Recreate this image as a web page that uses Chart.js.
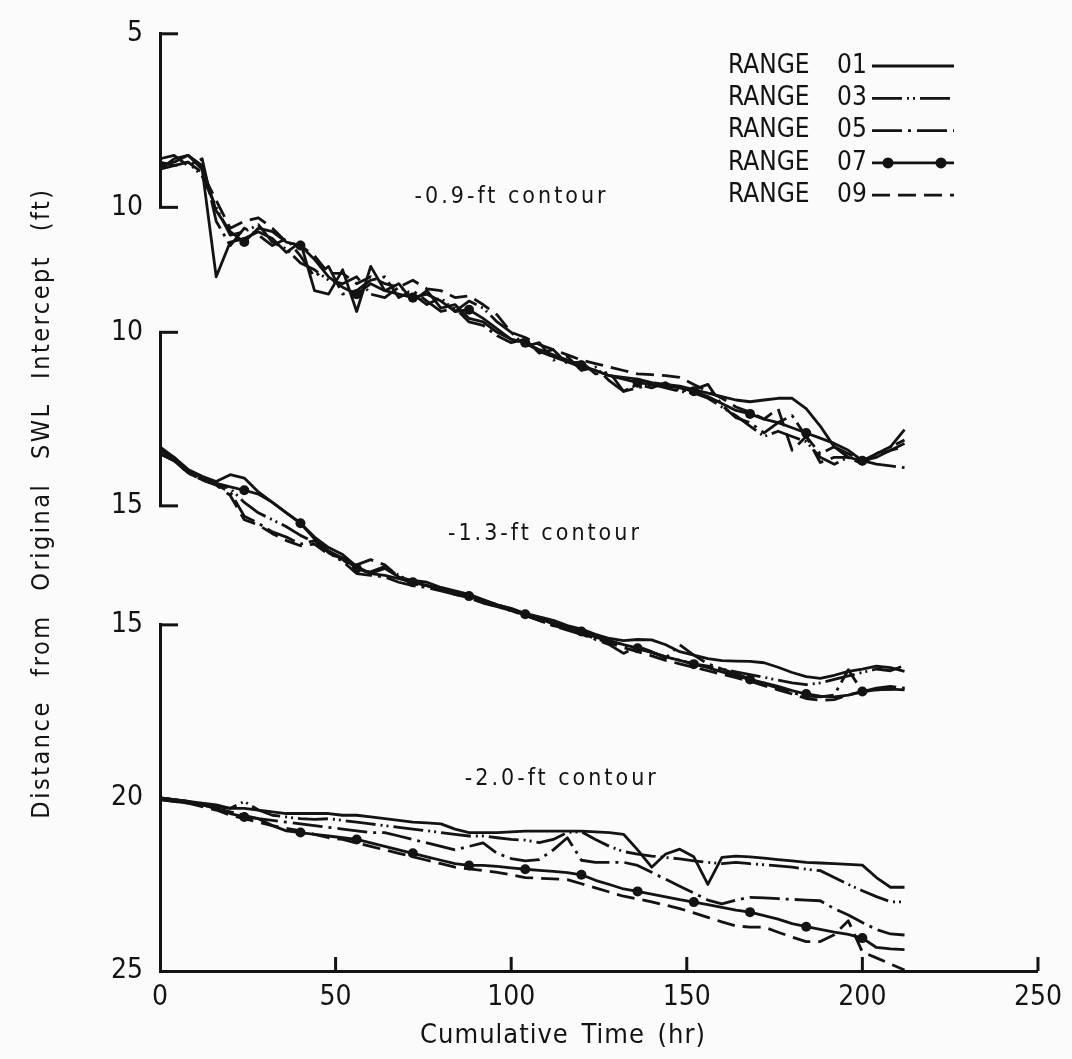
<!DOCTYPE html>
<html><head><meta charset="utf-8">
<script src="https://cdn.jsdelivr.net/npm/chart.js@4/dist/chart.umd.min.js"></script>
<style>html,body{margin:0;padding:0;background:#fbfbfb;overflow:hidden}canvas{display:block}</style>
</head><body>
<canvas id="c" width="1072" height="1059"></canvas>
<script>
// ---------------- DATA ----------------
const hours = [0,4,8,12,16,20,24,28,32,36,40,44,48,52,56,60,64,68,72,76,80,84,88,92,96,100,104,108,112,116,120,124,128,132,136,140,144,148,152,156,160,164,168,172,176,180,184,188,192,196,200,204,208,212];
const rangeNames = ['RANGE 01','RANGE 03','RANGE 05','RANGE 07','RANGE 09'];
const contourNames = ['-0.9-ft contour','-1.3-ft contour','-2.0-ft contour'];
const xTicks = [0,50,100,150,200,250];
const yTicks1 = [5,10];
const yTicks2 = [10,15];
const yTicks3 = [15,20,25];
const xTitle = 'Cumulative Time (hr)';
const yTitle = 'Distance from Original SWL Intercept (ft)';

// -0.9-ft contour
const r01_c09 = [8.9,8.6,8.5,8.9,12.0,11.0,10.9,10.7,10.9,11.3,11.0,12.4,12.5,11.8,13.0,11.7,12.4,12.2,12.7,12.4,12.9,12.8,13.2,13.3,13.6,13.8,13.9,14.15,14.3,14.45,14.6,14.7,14.85,14.9,14.95,15.05,15.1,15.15,15.25,15.35,15.45,15.55,15.6,15.55,15.5,15.5,15.8,16.3,16.9,17.2,17.3,17.1,16.9,16.4];
const r03_c09 = [8.7,8.8,8.7,9.1,10.0,10.8,10.7,10.5,11.0,11.2,11.6,11.8,12.1,12.2,12.0,12.5,12.6,12.3,12.5,12.8,12.6,13.0,12.7,12.9,13.3,13.6,14.0,13.9,14.4,14.3,14.7,14.6,15.0,15.3,15.1,15.2,15.05,15.3,15.35,15.5,15.75,16.0,16.3,16.6,16.45,16.6,16.75,17.2,17.4,17.2,17.4,17.1,16.9,16.7];
const r05_c09 = [8.6,8.5,8.8,8.6,10.4,11.1,10.6,10.8,11.1,10.9,11.4,12.0,11.7,12.5,12.4,12.1,12.0,12.6,12.4,12.7,13.0,12.9,13.3,13.4,13.7,13.9,13.8,14.2,14.1,14.5,14.45,14.8,14.75,15.3,15.2,15.1,15.2,15.3,15.25,15.1,15.7,16.06,16.2,16.5,16.2,16.0,16.6,17.1,16.9,17.1,17.3,17.4,17.45,17.5];
const r07_c09 = [8.8,8.7,8.5,8.8,10.1,10.7,11.0,10.6,10.7,11.0,11.1,11.5,12.0,12.3,12.5,12.2,12.4,12.5,12.6,12.5,12.7,13.0,12.95,13.2,13.5,13.8,13.9,14.1,14.25,14.4,14.55,14.7,14.85,14.95,15.05,15.1,15.15,15.2,15.3,15.45,15.65,15.85,15.95,16.1,16.2,16.35,16.5,16.65,16.8,17.0,17.3,17.2,17.0,16.8];
const r09_c09 = [8.9,8.8,8.7,9.0,9.8,10.6,10.4,10.3,10.6,11.0,11.1,11.4,11.9,11.9,12.2,12.0,12.2,12.3,12.1,12.35,12.4,12.6,12.55,12.8,13.1,13.6,13.75,13.95,14.1,14.25,14.4,14.5,14.6,14.7,14.8,14.82,14.85,14.9,15.1,15.3,15.5,15.75,15.9,16.1,15.8,17.0,16.6,17.35,17.2,17.2,17.3,17.15,17.0,16.9];

// -1.3-ft contour
const r01_c13 = [13.3,13.6,13.95,14.15,14.3,14.1,14.2,14.6,14.9,15.2,15.5,15.9,16.2,16.4,16.75,16.95,16.8,17.05,17.15,17.2,17.35,17.45,17.55,17.7,17.85,17.95,18.1,18.2,18.3,18.45,18.55,18.7,18.82,18.88,18.85,18.86,19.0,19.2,19.3,19.4,19.46,19.47,19.48,19.52,19.65,19.8,19.92,19.97,19.88,19.77,19.7,19.62,19.66,19.77];
const r03_c13 = [13.4,13.65,14.0,14.2,14.35,14.5,14.9,15.2,15.4,15.6,15.85,16.05,16.3,16.55,16.85,16.9,16.75,17.0,17.2,17.3,17.4,17.5,17.62,17.72,17.85,17.98,18.12,18.25,18.4,18.52,18.62,18.78,18.9,19.0,19.12,19.22,19.35,19.45,19.55,19.62,19.7,19.78,19.86,19.94,20.02,20.1,20.15,20.1,20.0,19.9,19.8,19.7,19.75,19.6];
const r05_c13 = [13.5,13.7,14.05,14.25,14.4,14.6,15.3,15.5,15.75,15.9,16.1,16.0,16.35,16.6,16.95,17.0,17.05,17.2,17.3,17.35,17.45,17.55,17.65,17.8,17.9,18.02,18.15,18.3,18.45,18.58,18.7,18.85,19.0,19.25,19.05,19.2,19.38,19.0,19.3,19.55,19.7,19.84,19.98,20.12,20.25,20.38,20.48,20.5,20.45,19.72,20.35,20.25,20.2,20.25];
const r07_c13 = [13.4,13.6,14.0,14.2,14.35,14.45,14.55,14.66,14.9,15.2,15.5,15.95,16.3,16.5,16.8,16.95,17.0,17.1,17.2,17.3,17.4,17.5,17.6,17.72,17.85,17.98,18.12,18.25,18.38,18.5,18.62,18.75,18.88,19.0,19.1,19.22,19.35,19.45,19.56,19.66,19.78,19.9,20.0,20.1,20.2,20.32,20.42,20.48,20.5,20.45,20.35,20.3,20.28,20.3];
const r09_c13 = [13.5,13.7,14.05,14.25,14.4,14.7,15.4,15.55,15.8,16.0,16.15,16.1,16.4,16.5,16.7,16.55,16.7,17.05,17.25,17.3,17.42,17.55,17.65,17.78,17.9,18.02,18.16,18.3,18.45,18.55,18.68,18.82,18.95,19.08,19.2,19.32,19.45,19.55,19.65,19.75,19.85,19.95,20.05,20.18,20.3,20.42,20.55,20.6,20.58,20.45,20.35,20.3,20.28,20.25];

// -2.0-ft contour
const r01_c20 = [20.0,20.05,20.1,20.15,20.2,20.3,20.3,20.35,20.4,20.45,20.45,20.45,20.45,20.5,20.5,20.55,20.6,20.65,20.7,20.72,20.75,20.9,21.0,21.0,21.0,20.98,20.96,20.96,20.96,20.96,20.96,20.98,21.0,21.05,21.5,22.0,21.62,21.48,21.7,22.5,21.72,21.68,21.7,21.74,21.78,21.82,21.86,21.88,21.9,21.92,21.94,22.3,22.58,22.58];
const r03_c20 = [20.0,20.05,20.1,20.2,20.25,20.3,20.1,20.35,20.5,20.55,20.6,20.62,20.6,20.65,20.7,20.75,20.8,20.85,20.9,20.95,21.0,21.05,21.1,21.1,21.15,21.2,21.22,21.29,21.2,21.0,20.98,21.2,21.4,21.55,21.62,21.68,21.72,21.76,21.82,21.86,21.9,21.86,21.9,21.93,21.96,22.0,22.06,22.1,22.3,22.5,22.68,22.85,23.0,23.0];
const r05_c20 = [20.05,20.1,20.15,20.2,20.3,20.4,20.5,20.6,20.65,20.7,20.75,20.8,20.85,20.9,20.95,21.0,21.0,21.1,21.2,21.3,21.4,21.5,21.4,21.3,21.6,21.75,21.82,21.78,21.5,21.15,21.8,21.86,21.86,21.86,21.95,22.15,22.35,22.55,22.75,22.95,23.06,22.95,22.87,22.89,22.91,22.93,22.95,22.97,23.2,23.38,23.6,23.8,23.93,23.96];
const r07_c20 = [20.0,20.05,20.1,20.2,20.3,20.45,20.55,20.6,20.8,20.95,21.0,21.05,21.1,21.15,21.2,21.3,21.4,21.5,21.6,21.7,21.8,21.9,21.95,21.95,21.98,22.02,22.06,22.09,22.12,22.16,22.22,22.38,22.5,22.63,22.7,22.78,22.86,22.94,23.01,23.08,23.16,23.24,23.3,23.4,23.5,23.63,23.72,23.8,23.88,23.94,24.05,24.32,24.36,24.38];
const r09_c20 = [20.05,20.1,20.15,20.25,20.35,20.5,20.6,20.7,20.8,20.88,20.95,21.05,21.15,21.2,21.3,21.4,21.5,21.6,21.7,21.8,21.9,22.0,22.05,22.1,22.15,22.22,22.3,22.32,22.34,22.36,22.48,22.6,22.72,22.84,22.92,23.0,23.1,23.2,23.32,23.45,23.58,23.7,23.73,23.73,23.88,24.02,24.15,24.15,23.95,23.55,24.45,24.62,24.8,24.97];

// ---------------- STYLE ----------------
const FONT = '"DejaVu Sans Condensed", "DejaVu Sans", "Liberation Sans Narrow", sans-serif';
const INK = '#131313';
const rangeDash = [[], [30,5,2,4,2,5], [30,6,3,6], [], [18,8]];
const rangeDots = [false, false, false, true, false];
const panels = [
  {axis: 'y1', series: [r01_c09, r03_c09, r05_c09, r07_c09, r09_c09]},
  {axis: 'y2', series: [r01_c13, r03_c13, r05_c13, r07_c13, r09_c13]},
  {axis: 'y3', series: [r01_c20, r03_c20, r05_c20, r07_c20, r09_c20]}
];

const datasets = [];
panels.forEach(p => {
  p.series.forEach((vals, r) => {
    datasets.push({
      label: rangeNames[r],
      yAxisID: p.axis,
      clip: false,
      data: hours.map((h, i) => ({x: h, y: vals[i]})),
      borderColor: INK,
      backgroundColor: INK,
      borderWidth: 2.8,
      borderDash: rangeDash[r],
      borderJoinStyle: 'round',
      tension: 0,
      pointRadius: hours.map((h, i) => (rangeDots[r] && i >= 6 && i <= 50 && (i - 6) % 4 === 0) ? 5 : 0),
      pointBorderWidth: 0,
      pointBackgroundColor: INK,
      fill: false
    });
  });
});

const tickFont = {family: FONT, size: 28};
function yAxis(min, max, weight, tickVals) {
  return {
    type: 'linear', position: 'left', stack: 'v', stackWeight: weight,
    reverse: true, min: min, max: max,
    afterBuildTicks: s => { s.ticks = tickVals.map(v => ({value: v})); },
    ticks: {font: tickFont, color: INK, padding: 17},
    grid: {display: false, drawTicks: false},
    border: {display: true, color: INK, width: 3},
    afterFit: s => { s.width = 160; }
  };
}
function gapAxis(weight) {
  return {
    type: 'linear', position: 'left', stack: 'v', stackWeight: weight,
    ticks: {display: false},
    grid: {display: false, drawTicks: false},
    border: {display: false},
    afterFit: s => { s.width = 160; }
  };
}

const decor = {
  id: 'decor',
  beforeDraw(chart) {
    const ctx = chart.ctx;
    ctx.save();
    ctx.fillStyle = '#fbfbfb';
    ctx.fillRect(0, 0, chart.width, chart.height);
    ctx.restore();
  },
  afterDraw(chart) {
    const ctx = chart.ctx, ca = chart.chartArea, sx = chart.scales.x;
    ctx.save();
    ctx.strokeStyle = INK; ctx.fillStyle = INK; ctx.lineWidth = 3;
    // inward bracket ticks
    [['y1', yTicks1], ['y2', yTicks2], ['y3', [yTicks3[0]]]].forEach(([id, vals]) => {
      const s = chart.scales[id];
      vals.forEach(v => {
        const py = s.getPixelForValue(v);
        ctx.beginPath(); ctx.moveTo(ca.left - 1, py); ctx.lineTo(ca.left + 18, py); ctx.stroke();
      });
    });
    xTicks.slice(1).forEach(v => {
      const px = sx.getPixelForValue(v);
      ctx.beginPath(); ctx.moveTo(px, ca.bottom); ctx.lineTo(px, ca.bottom - 14); ctx.stroke();
    });
    // contour labels
    ctx.font = '23px ' + FONT;
    ctx.textBaseline = 'middle'; ctx.textAlign = 'left';
    if ('letterSpacing' in ctx) ctx.letterSpacing = '3px';
    ctx.fillText(contourNames[0], sx.getPixelForValue(72.5), chart.scales.y1.getPixelForValue(9.7));
    ctx.fillText(contourNames[1], sx.getPixelForValue(82), chart.scales.y2.getPixelForValue(15.8));
    ctx.fillText(contourNames[2], sx.getPixelForValue(86.8), chart.scales.y3.getPixelForValue(19.44));
    if ('letterSpacing' in ctx) ctx.letterSpacing = '0px';
    // legend
    ctx.font = '26px ' + FONT;
    rangeNames.forEach((name, i) => {
      const y = 66 + i * 32.3;
      const parts = name.split(' ');
      ctx.fillText(parts[0], 728, y);
      ctx.fillText(parts[1], 837, y);
      ctx.save();
      ctx.lineWidth = 2.8;
      ctx.setLineDash(rangeDash[i]);
      ctx.beginPath(); ctx.moveTo(872, y); ctx.lineTo(954, y); ctx.stroke();
      ctx.restore();
      if (rangeDots[i]) {
        [888, 941].forEach(dx => { ctx.beginPath(); ctx.arc(dx, y, 5.5, 0, Math.PI * 2); ctx.fill(); });
      }
    });
    // x title
    ctx.textAlign = 'center';
    ctx.font = '27px ' + FONT;
    if ('letterSpacing' in ctx) ctx.letterSpacing = '1px';
    if ('wordSpacing' in ctx) ctx.wordSpacing = '4px';
    ctx.fillText(xTitle, 563, 1036);
    // y title
    ctx.save();
    ctx.translate(42, 503);
    ctx.rotate(-Math.PI / 2);
    ctx.textAlign = 'center';
    ctx.font = '25px ' + FONT;
    if ('wordSpacing' in ctx) ctx.wordSpacing = '14px';
    if ('letterSpacing' in ctx) ctx.letterSpacing = '2.5px';
    ctx.fillText(yTitle, 0, 0);
    ctx.restore();
    ctx.restore();
  }
};

new Chart(document.getElementById('c'), {
  type: 'line',
  data: {datasets: datasets},
  options: {
    responsive: false,
    animation: false,
    devicePixelRatio: 1,
    layout: {padding: {top: 26, right: 34, left: 0, bottom: 0}},
    plugins: {legend: {display: false}, tooltip: {enabled: false}},
    scales: {
      x: {
        type: 'linear', position: 'bottom', min: 0, max: 250,
        afterBuildTicks: s => { s.ticks = xTicks.map(v => ({value: v})); },
        ticks: {font: tickFont, color: INK, padding: 10, maxRotation: 0},
        grid: {display: false, drawTicks: false},
        border: {display: true, color: INK, width: 3},
        afterFit: s => { s.height = 88; }
      },
      y3: yAxis(15, 25, 349, yTicks3),
      g2: gapAxis(120),
      y2: yAxis(10, 15, 175, yTicks2),
      g1: gapAxis(126),
      y1: yAxis(5, 10, 175, yTicks1)
    }
  },
  plugins: [decor]
});
</script>
</body></html>
